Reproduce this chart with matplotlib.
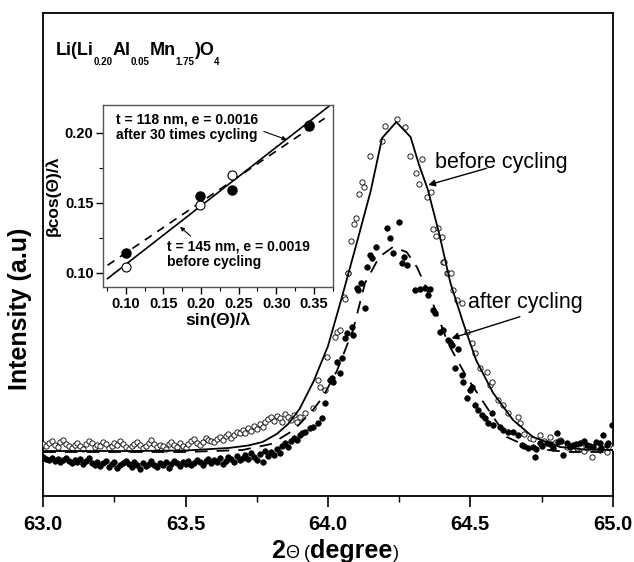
import numpy as np
import matplotlib
matplotlib.use("Agg")
import matplotlib.pyplot as plt
from matplotlib.ticker import MultipleLocator

plt.rcParams['font.family'] = ['Liberation Sans', 'DejaVu Sans']

# ---------------- main XRD data (intensity in arbitrary units) ----------------
# fitted curves
fit_before_x = [63.00, 63.30, 63.50, 63.65, 63.72, 63.77, 63.82, 63.86, 63.90, 63.95, 64.00, 64.05,
                64.10, 64.15, 64.19, 64.24, 64.29, 64.32, 64.35, 64.39, 64.43, 64.475, 64.52, 64.58,
                64.65, 64.72, 64.815, 64.90, 65.00]
fit_before_y = [45, 45, 45.5, 48, 50.5, 54, 62, 72, 87, 115, 150, 200,
                252, 305, 358, 374, 359, 331, 307, 263, 213, 173, 136, 103,
                76, 59, 49, 46.5, 46]
fit_after_x = [63.00, 63.50, 63.70, 63.80, 63.88, 63.947, 63.982, 64.031, 64.088, 64.13, 64.18, 64.228,
               64.276, 64.312, 64.341, 64.382, 64.421, 64.487, 64.557, 64.628, 64.712, 64.838, 65.00]
fit_after_y = [44, 44, 46, 52, 66, 86, 99, 125, 166, 213, 239, 249,
               244, 229, 211, 183, 153, 119, 89, 59, 48, 44, 44]

# open circles: before cycling
before_base_x = [round(63.00 + 0.01 * i, 2) for i in range(91)]
before_base_y = [52, 50, 53, 55, 51, 49, 54, 56, 52, 50, 48, 51, 53, 50, 47, 52, 55, 53, 49, 51,
                 50, 54, 52, 48, 50, 53, 51, 55, 52, 49, 47, 50, 52, 54, 51, 48, 50, 53, 56, 52,
                 49, 51, 50, 47, 52, 54, 51, 49, 53, 50, 48, 52, 55, 57, 53, 51, 54, 58, 56, 55,
                 54, 57, 59, 56, 60, 62, 58, 61, 64, 63, 66, 63, 68, 65, 70, 67, 72, 69, 74, 77,
                 79, 75, 80, 78, 74, 82, 79, 76, 81, 74, 79]
before_peak_x = [63.92, 63.948, 63.966, 63.972, 63.99, 63.995, 64.025, 64.03, 64.042, 64.056, 64.06,
                 64.069, 64.071, 64.08, 64.091, 64.098, 64.11, 64.118, 64.126, 64.148, 64.189, 64.2,
                 64.241, 64.27, 64.288, 64.309, 64.32, 64.329, 64.349, 64.361, 64.37, 64.379, 64.387,
                 64.399, 64.405, 64.407, 64.417, 64.423, 64.431, 64.44, 64.452, 64.47, 64.487, 64.505,
                 64.516, 64.534, 64.557, 64.569, 64.575, 64.598, 64.616, 64.633, 64.668, 64.674, 64.69,
                 64.71, 64.72, 64.745, 64.76, 64.78, 64.79, 64.80, 64.815, 64.838, 64.85, 64.86,
                 64.873, 64.89, 64.90, 64.91, 64.926, 64.94, 64.955, 64.97, 64.98, 65.00]
before_peak_y = [83, 88, 116, 109, 106, 139, 159, 164, 166, 199, 197,
                 223, 223, 255, 272, 278, 302, 314, 309, 340, 355, 370,
                 377, 369, 340, 323, 312, 337, 299, 304, 267, 260, 268,
                 259, 234, 234, 223, 223, 223, 206, 196, 193, 164, 153,
                 143, 128, 124, 111, 114, 96, 91, 83, 79, 73, 62,
                 58, 57, 61, 55, 59, 52, 54, 56, 49, 50, 47,
                 48, 49, 45, 48, 39, 50, 46, 47, 44, 48]

# filled circles: after cycling
after_base_x = [round(63.00 + 0.01 * i, 2) for i in range(91)]
after_base_y = [39, 37, 36, 38, 35, 37, 34, 36, 38, 35, 33, 36, 34, 37, 32, 35, 38, 33, 31, 34,
                30, 33, 35, 29, 32, 34, 28, 31, 33, 35, 32, 29, 34, 31, 27, 33, 30, 32, 35, 31,
                29, 33, 31, 34, 28, 32, 35, 33, 30, 34, 32, 35, 31, 33, 36, 34, 31, 35, 37, 33,
                36, 34, 38, 32, 35, 39, 37, 34, 40, 36, 38, 41, 37, 43, 39, 36, 42, 34, 45, 40,
                44, 41, 47, 43, 50, 53, 49, 55, 58, 56, 61]
after_peak_x = [63.908, 63.919, 63.937, 63.948, 63.966, 63.978, 63.989, 64.007, 64.013, 64.019, 64.031,
                64.042, 64.048, 64.06, 64.066, 64.083, 64.089, 64.101, 64.107, 64.116, 64.13, 64.138,
                64.148, 64.153, 64.169, 64.208, 64.218, 64.23, 64.249, 64.259, 64.268, 64.276, 64.306,
                64.323, 64.341, 64.35, 64.358, 64.37, 64.376, 64.393, 64.403, 64.423, 64.43, 64.435,
                64.446, 64.458, 64.47, 64.475, 64.487, 64.499, 64.505, 64.516, 64.528, 64.54, 64.552,
                64.563, 64.575, 64.58, 64.604, 64.616, 64.633, 64.651, 64.668, 64.68, 64.69, 64.704,
                64.721, 64.727, 64.73, 64.745, 64.75, 64.768, 64.78, 64.79, 64.803, 64.809, 64.82,
                64.826, 64.838, 64.85, 64.861, 64.87, 64.885, 64.90, 64.909, 64.92, 64.932, 64.94,
                64.955, 64.96, 64.967, 64.98, 64.985, 64.997]
after_peak_y = [63, 64, 68, 69, 73, 78, 93, 116, 118, 114, 134,
                123, 138, 158, 163, 169, 161, 208, 206, 213, 188, 229,
                241, 238, 249, 268, 258, 243, 274, 233, 239, 231, 206,
                207, 208, 201, 207, 186, 183, 164, 166, 156, 154, 151,
                128, 147, 121, 114, 98, 106, 109, 91, 86, 81, 78,
                73, 83, 71, 69, 66, 64, 64, 61, 51, 50, 48,
                49, 39, 47, 53, 50, 53, 52, 48, 63, 54, 55,
                41, 53, 49, 51, 52, 53, 55, 51, 50, 49, 54,
                53, 48, 61, 51, 53, 71]

# ---------------- inset (Williamson-Hall) data ----------------
wh_x_before = [0.100, 0.1985, 0.2406, 0.343]
wh_y_before = [0.1043, 0.1486, 0.170, 0.2055]
wh_x_after = [0.100, 0.1985, 0.2406, 0.343]
wh_y_after = [0.1143, 0.155, 0.159, 0.2047]
wh_fit_x = [0.0756, 0.3697]
wh_fit_before = [0.096, 0.219]
wh_fit_after_x = [0.0756, 0.3643]
wh_fit_after = [0.1055, 0.2105]

W, H = 634, 562
fig = plt.figure(figsize=(W / 100, H / 100), dpi=100)
renderer = fig.canvas.get_renderer()


def frac_box(l, t, r, b):
    return [l / W, 1 - b / H, (r - l) / W, (b - t) / H]


def draw_pieces(x0, y0, pieces, ha='left'):
    """Draw a run of text pieces (text, size, weight, dy_px) on one baseline at pixel (x0, y0)."""
    widths = []
    for txt, size, weight, dy in pieces:
        t = fig.text(0, 0, txt, fontsize=size, fontweight=weight)
        widths.append(t.get_window_extent(renderer).width)
        t.remove()
    x = x0 - sum(widths) / 2 if ha == 'center' else x0
    for (txt, size, weight, dy), w in zip(pieces, widths):
        fig.text(x / W, 1 - (y0 + dy) / H, txt, fontsize=size, fontweight=weight,
                 ha='left', va='baseline')
        x += w


ax = fig.add_axes(frac_box(43.3, 13.3, 612.7, 496))
ax.plot(before_base_x + before_peak_x, before_base_y + before_peak_y, 'o', ms=3.8, mfc='white',
        mec='black', mew=0.6, zorder=3)
ax.plot(after_base_x + after_peak_x, after_base_y + after_peak_y, 'o', ms=4.0, mfc='black',
        mec='black', mew=0.5, zorder=3)
ax.plot(fit_before_x, fit_before_y, '-', color='black', lw=1.3, zorder=4)
ax.plot(fit_after_x, fit_after_y, color='black', lw=1.3, dashes=(7, 5), zorder=4)
ax.set_xlim(63.0, 65.0)
ax.set_ylim(0, 482.7)
ax.set_yticks([])
ax.xaxis.set_minor_locator(MultipleLocator(0.25))
ax.set_xticks([63.0, 63.5, 64.0, 64.5, 65.0])
ax.set_xticklabels(['63.0', '63.5', '64.0', '64.5', '65.0'], fontweight='bold')
ax.tick_params(axis='x', which='major', direction='out', length=8, width=1.2, labelsize=14.5, pad=6)
ax.tick_params(axis='x', which='minor', direction='out', length=4.5, width=1.0)
for s in ax.spines.values():
    s.set_linewidth(1.3)

# axis labels
draw_pieces(335, 558, [('2', 18, 'bold', 0), ('Θ', 13, 'normal', 0), (' (', 13, 'normal', 0),
                       ('degree', 18, 'bold', 0), (')', 13, 'normal', 0)], ha='center')
fig.text(20 / W, 1 - 309 / H, 'Intensity (a.u)', fontsize=18, fontweight='bold', rotation=90,
         ha='center', va='center')

# compound formula
draw_pieces(55.7, 55, [('Li(Li', 13, 'bold', 0), ('0.20', 7, 'bold', 10), ('Al', 13, 'bold', 0),
                       ('0.05', 7, 'bold', 10), ('Mn', 13, 'bold', 0), ('1.75', 7, 'bold', 10),
                       (')O', 13, 'bold', 0), ('4', 7, 'bold', 10)])

ax.text(64.375, 334, 'before cycling', fontsize=15.5, ha='left', va='center', zorder=5)
ax.annotate('', xy=(64.352, 311), xytext=(64.557, 327.7),
            arrowprops=dict(arrowstyle='-|>', color='black', lw=1.0, mutation_scale=10,
                            shrinkA=0, shrinkB=0))
ax.text(64.493, 194, 'after cycling', fontsize=15.5, ha='left', va='center', zorder=5)
ax.annotate('', xy=(64.434, 157.7), xytext=(64.674, 179.3),
            arrowprops=dict(arrowstyle='-|>', color='black', lw=1.0, mutation_scale=10,
                            shrinkA=0, shrinkB=0))

# ---------------- inset ----------------
ins = fig.add_axes(frac_box(103.3, 105, 332.7, 287))
ins.plot(wh_fit_x, wh_fit_before, '-', color='black', lw=1.2)
ins.plot(wh_fit_after_x, wh_fit_after, color='black', lw=1.2, dashes=(5, 4))
ins.plot(wh_x_before, wh_y_before, 'o', ms=6.5, mfc='white', mec='black', mew=0.8, zorder=3)
ins.plot(wh_x_after, wh_y_after, 'o', ms=6.5, mfc='black', mec='black', zorder=4)
ins.set_xlim(0.07, 0.375)
ins.set_ylim(0.09, 0.22)
ins.xaxis.set_minor_locator(MultipleLocator(0.025))
ins.yaxis.set_minor_locator(MultipleLocator(0.025))
ins.set_xticks([0.10, 0.15, 0.20, 0.25, 0.30, 0.35])
ins.set_xticklabels(['0.10', '0.15', '0.20', '0.25', '0.30', '0.35'], fontweight='bold')
ins.set_yticks([0.10, 0.15, 0.20])
ins.set_yticklabels(['0.10', '0.15', '0.20'], fontweight='bold')
ins.tick_params(which='major', direction='out', length=5, width=1.0, labelsize=10.5, pad=2)
ins.tick_params(which='minor', direction='out', length=3, width=0.8)
for s in ins.spines.values():
    s.set_linewidth(1.0)
    s.set_color('#555555')
ins.set_xlabel('sin(Θ)/λ', fontsize=12.5, fontweight='bold', labelpad=1)
ins.set_ylabel('βcos(Θ)/λ', fontsize=12.5, fontweight='bold', labelpad=3)

ins.text(0.0867, 0.2042, 't = 118 nm, e = 0.0016\nafter 30 times cycling', fontsize=10,
         fontweight='bold', ha='left', va='center', linespacing=1.15)
ins.annotate('', xy=(0.3139, 0.1952), xytext=(0.2834, 0.2011),
             arrowprops=dict(arrowstyle='-|>', color='black', lw=0.8, mutation_scale=6,
                             shrinkA=0, shrinkB=0))
ins.text(0.1552, 0.1131, 't = 145 nm, e = 0.0019\nbefore cycling', fontsize=10,
         fontweight='bold', ha='left', va='center', linespacing=1.15)
ins.annotate('', xy=(0.172, 0.133), xytext=(0.1862, 0.1263),
             arrowprops=dict(arrowstyle='-|>', color='black', lw=0.8, mutation_scale=6,
                             shrinkA=0, shrinkB=0))

fig.savefig('out.png', dpi=100)
